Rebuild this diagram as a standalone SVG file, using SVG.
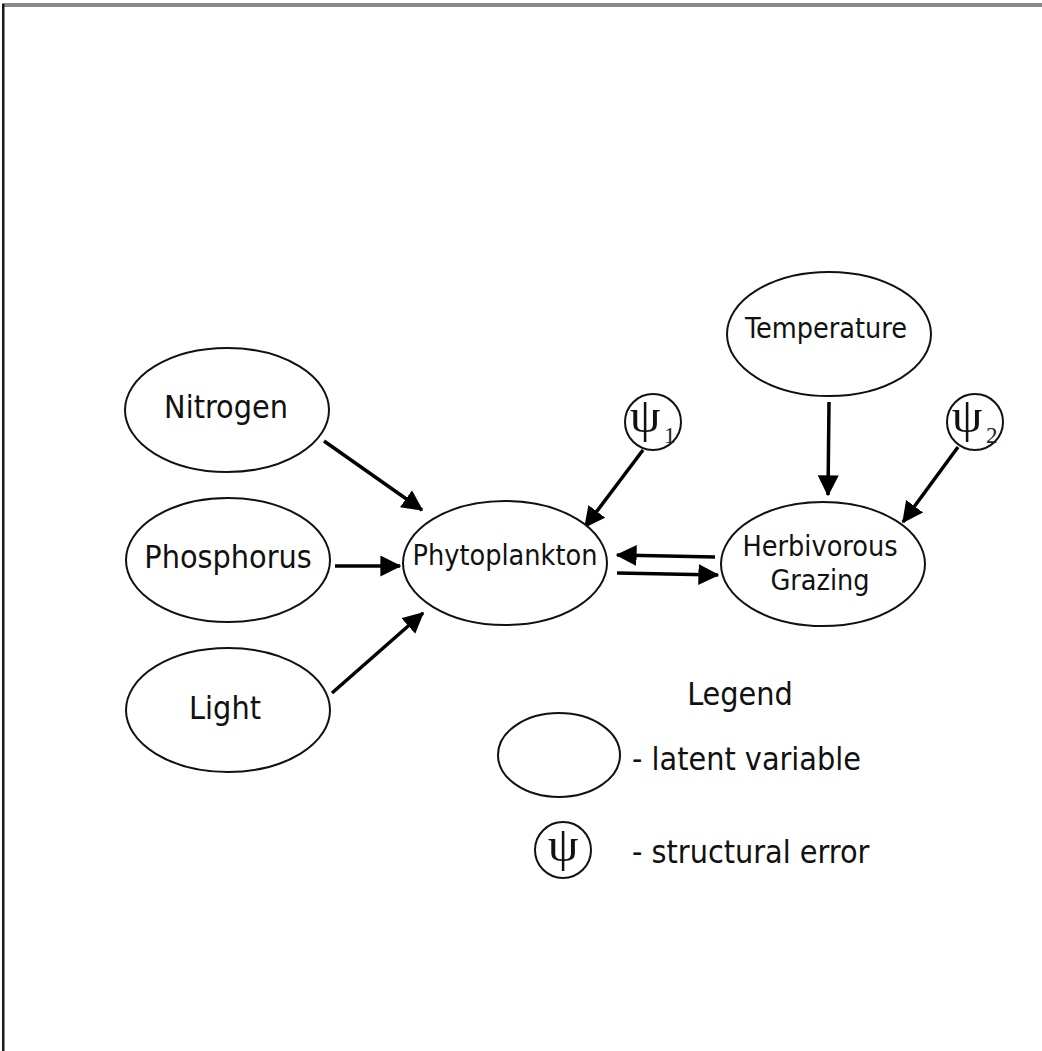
<svg xmlns="http://www.w3.org/2000/svg" width="1042" height="1051" viewBox="0 0 1042 1051">
<style>
.n{fill:#fff;stroke:#111;stroke-width:2}
.t{font-family:"DejaVu Sans Condensed","DejaVu Sans",sans-serif;fill:#111;text-anchor:middle}
.big{font-size:32px}
.mid{font-size:28.5px}
.psi{font-family:"Liberation Serif",serif;fill:#111;font-size:49px;text-anchor:middle}
.sub{font-family:"Liberation Serif",serif;fill:#222;font-size:23px}
.c line{stroke:#000;stroke-width:3.5;marker-end:url(#ah)}
</style>
<defs>
<marker id="ah" markerWidth="6" markerHeight="6" refX="5.6" refY="3" orient="auto" markerUnits="strokeWidth">
<path d="M0,0 L6,3 L0,6 Z" fill="#000"/>
</marker>
</defs>
<rect width="1042" height="1051" fill="#fff"/>
<rect x="2" y="3" width="1040" height="4" fill="#8a8a8a"/>
<rect x="2" y="4" width="2.5" height="1047" fill="#1a1a1a"/>

<g class="c" id="connectors">
<line x1="324" y1="441" x2="422" y2="510"/>
<line x1="335" y1="566" x2="400" y2="566"/>
<line x1="332" y1="693" x2="423" y2="613"/>
<line x1="643" y1="450" x2="585" y2="527"/>
<line x1="829" y1="402" x2="828" y2="495"/>
<line x1="958" y1="447" x2="903" y2="522"/>
<line x1="715" y1="557" x2="617" y2="555"/>
<line x1="617" y1="573" x2="718" y2="575"/>
</g>

<g id="nitrogen"><ellipse class="n" cx="227" cy="410" rx="102" ry="62"/><text class="t big" x="226" y="418">Nitrogen</text></g>
<g id="phosphorus"><ellipse class="n" cx="228" cy="560" rx="102" ry="62"/><text class="t big" x="228" y="568">Phosphorus</text></g>
<g id="light"><ellipse class="n" cx="228" cy="710" rx="102" ry="62"/><text class="t big" x="225" y="719">Light</text></g>
<g id="phytoplankton"><ellipse class="n" cx="505" cy="563" rx="102" ry="62"/><text class="t mid" x="505" y="565">Phytoplankton</text></g>
<g id="grazing"><ellipse class="n" cx="823" cy="564" rx="102" ry="62"/><text class="t mid" x="820" y="556">Herbivorous</text><text class="t mid" x="820" y="590">Grazing</text></g>
<g id="temperature"><ellipse class="n" cx="829" cy="334" rx="102" ry="62"/><text class="t mid" x="826" y="338">Temperature</text></g>
<g id="psi1"><circle class="n" cx="653" cy="422" r="28"/><text class="psi" x="645" y="432">ψ</text><text class="sub" x="664" y="443">1</text></g>
<g id="psi2"><circle class="n" cx="975" cy="422" r="28"/><text class="psi" x="967" y="432">ψ</text><text class="sub" x="986" y="443">2</text></g>

<g id="legend">
<text class="t big" x="740" y="705">Legend</text>
<ellipse class="n" cx="559" cy="755" rx="61" ry="42"/>
<text class="t big" x="632" y="770" style="text-anchor:start">- latent variable</text>
<circle class="n" cx="563" cy="850" r="28"/>
<text class="psi" x="563" y="861">ψ</text>
<text class="t big" x="632" y="863" style="text-anchor:start">- structural error</text>
</g>
</svg>
